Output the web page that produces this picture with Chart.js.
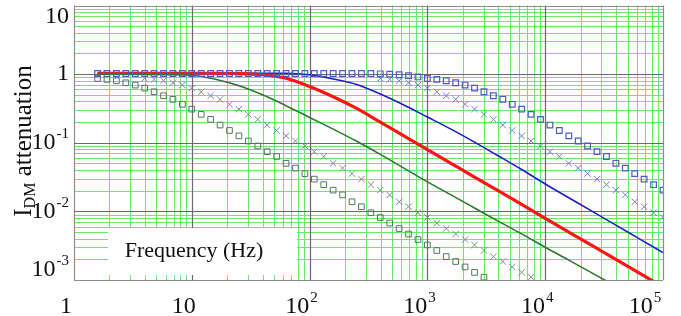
<!DOCTYPE html>
<html>
<head>
<meta charset="utf-8">
<script src="https://cdn.jsdelivr.net/npm/chart.js@4/dist/chart.umd.min.js"></script>
<style>
  html, body { margin: 0; padding: 0; background: #fff; }
  #wrap { width: 681px; height: 316px; }
</style>
</head>
<body>
<div id="wrap"><canvas id="attChart"></canvas></div>
<script>
// frequencies of the marker series (Hz)
const freqs = [
  1.585, 1.905, 2.291, 2.754, 3.311, 3.981, 4.786, 5.754, 6.918, 8.318,
  10, 12.02, 14.45, 17.38, 20.89, 25.12, 30.2, 36.31, 43.65, 52.48,
  63.1, 75.86, 91.2, 109.6, 131.8, 158.5, 190.5, 229.1, 275.4, 331.1,
  398.1, 478.6, 575.4, 691.8, 831.8, 1000, 1202, 1445, 1738, 2089,
  2512, 3020, 3631, 4365, 5248, 6310, 7586, 9120, 10965, 13183,
  15849, 19055, 22909, 27542, 33113, 39811, 47863, 57544, 69183, 83176,
  100000
];

// gray squares
const graySquares = [
  0.865, 0.838, 0.80, 0.748, 0.692, 0.625, 0.553, 0.484, 0.429, 0.363,
  0.309, 0.259, 0.219, 0.181, 0.151, 0.126, 0.106, 0.0897, 0.0741, 0.0631,
  0.0501, 0.0427, 0.0355, 0.0295, 0.0245, 0.0204, 0.0174, 0.0138, 0.0117, 0.00955,
  0.00813, 0.00676, 0.00562, 0.00468, 0.00389, 0.00324, 0.00269, 0.00219, 0.00186, 0.00155,
  0.00129, 0.0011, null, null, null, null, null, null, null, null,
  null, null, null, null, null, null, null, null, null, null,
  null
];

// gray crosses
const grayCrosses = [
  null, null, null, null, null, 0.865, 0.838, 0.80, 0.748, 0.692,
  0.625, 0.553, 0.484, 0.429, 0.363, 0.309, 0.259, 0.219, 0.181, 0.151,
  0.126, 0.106, 0.0897, 0.0741, 0.0631, 0.0501, 0.0427, 0.0355, 0.0295, 0.0245,
  0.0204, 0.0174, 0.0138, 0.0117, 0.00955, 0.00813, 0.00676, 0.00562, 0.00468, 0.00389,
  0.00324, 0.00269, 0.00219, 0.00186, 0.00155, 0.00129, 0.0011, null, null, null,
  null, null, null, null, null, null, null, null, null, null,
  null
];

// blue squares
const blueSquares = [
  1.02, 1.02, 1.02, 1.02, 1.02, 1.02, 1.02, 1.02, 1.02, 1.02,
  1.02, 1.02, 1.02, 1.02, 1.02, 1.02, 1.02, 1.02, 1.02, 1.02,
  1.02, 1.02, 1.02, 1.02, 1.02, 1.02, 1.02, 1.02, 1.02, 1.02,
  1.01, 1.0, 0.98, 0.95, 0.91, 0.865, 0.838, 0.80, 0.748, 0.692,
  0.625, 0.553, 0.484, 0.429, 0.363, 0.309, 0.259, 0.219, 0.181, 0.151,
  0.126, 0.106, 0.0897, 0.0741, 0.0631, 0.0501, 0.0427, 0.0355, 0.0295, 0.0245,
  0.0204
];

// blue crosses
const blueCrosses = [
  null, null, null, null, null, null, null, null, null, null,
  null, null, null, null, null, null, null, null, null, null,
  null, null, null, null, null, null, null, null, null, null,
  0.865, 0.838, 0.80, 0.748, 0.692, 0.625, 0.553, 0.484, 0.429, 0.363,
  0.309, 0.259, 0.219, 0.181, 0.151, 0.126, 0.106, 0.0897, 0.0741, 0.0631,
  0.0501, 0.0427, 0.0355, 0.0295, 0.0245, 0.0204, 0.0174, 0.0138, 0.0117, 0.00955,
  0.00813
];

// frequencies of the solid curves (Hz)
const lineFreqs = [
  1.585, 2.512, 3.981, 6.31, 10, 15.85, 25.12, 39.81, 63.1, 100,
  158.5, 251.2, 398.1, 631, 1000, 1585, 2512, 3981, 6310, 10000,
  15849, 25119, 39811, 63096, 100000
];
const greenLine = [
  1.0, 1.0, 0.99, 0.98, 0.965, 0.84, 0.676, 0.50, 0.347, 0.234,
  0.158, 0.105, 0.0676, 0.0427, 0.0269, 0.0174, 0.0112, 0.0072, 0.0047, 0.0030,
  0.00195, 0.00126, 0.00081, null, null
];
const redLine = [
  1.03, 1.03, 1.03, 1.03, 1.03, 1.03, 1.02, 0.98, 0.87, 0.66,
  0.468, 0.316, 0.20, 0.126, 0.0794, 0.0501, 0.0316, 0.02, 0.0126, 0.0079,
  0.005, 0.00316, 0.002, 0.00126, 0.00079
];
const blueLine = [
  1.03, 1.03, 1.03, 1.03, 1.03, 1.03, 1.03, 1.03, 1.03, 0.977,
  0.851, 0.708, 0.513, 0.355, 0.237, 0.158, 0.102, 0.0646, 0.0407, 0.0251,
  0.0158, 0.01, 0.0063, 0.00398, 0.00251
];

// tick labels as base + exponent
const xTickVals = [1, 10, 100, 1000, 10000, 100000];
const xTickLabels = [['1', ''], ['10', ''], ['10', '2'], ['10', '3'], ['10', '4'], ['10', '5']];
const yTickVals = [10, 1, 0.1, 0.01, 0.001];
const yTickLabels = [['10', ''], ['1', ''], ['10', '-1'], ['10', '-2'], ['10', '-3']];
const xTitle = 'Frequency (Hz)';
const yTitle = ['I', 'DM', ' attenuation'];

const SERIF = '"Liberation Serif", "Times New Roman", serif';
const MINOR_GRID = '#6ee66e';
const MAJOR_GRID = '#6a6a6a';
const EDGE = '#8c8c8c';

function pts(xs, ys) {
  return xs.map((x, i) => ({ x: x, y: ys[i] }));
}

function mantissa(v) {
  const e = Math.floor(Math.log10(v) + 1e-9);
  return v / Math.pow(10, e);
}

function isDecade(v) {
  return Math.abs(mantissa(v) - 1) < 1e-6;
}

// keep only 1..9 x 10^n ticks (drop the extra 1.5 ones)
function keepWholeTicks(scale) {
  scale.ticks = scale.ticks.filter(t => {
    const m = mantissa(t.value);
    return Math.abs(m - Math.round(m)) < 1e-6;
  });
}

// draws "10" with a raised exponent
function drawPower(ctx, base, sup, x, y, align, size) {
  const supSize = Math.round(size * 0.62);
  ctx.font = size + 'px ' + SERIF;
  const wb = ctx.measureText(base).width;
  ctx.font = supSize + 'px ' + SERIF;
  const ws = sup ? ctx.measureText(sup).width + 1 : 0;
  const total = wb + ws;
  const left = align === 'right' ? x - total : x - total / 2;
  ctx.textAlign = 'left';
  ctx.textBaseline = 'middle';
  ctx.font = size + 'px ' + SERIF;
  ctx.fillText(base, left, y);
  if (sup) {
    ctx.font = supSize + 'px ' + SERIF;
    ctx.fillText(sup, left + wb + 1, y - size * 0.36);
  }
}

// grid lines from the scales' own ticks, green minor / gray decades
function drawGrid(chart) {
  const ctx = chart.ctx;
  const a = chart.chartArea;
  const xs = chart.scales.x;
  const ys = chart.scales.y;
  const vline = (p, color) => {
    const px = Math.round(p) + 0.5;
    ctx.strokeStyle = color;
    ctx.beginPath(); ctx.moveTo(px, a.top); ctx.lineTo(px, a.bottom); ctx.stroke();
  };
  const hline = (p, color) => {
    const py = Math.round(p) + 0.5;
    ctx.strokeStyle = color;
    ctx.beginPath(); ctx.moveTo(a.left, py); ctx.lineTo(a.right, py); ctx.stroke();
  };
  ctx.save();
  ctx.lineWidth = 1;
  xs.ticks.forEach(t => { if (!isDecade(t.value)) vline(xs.getPixelForValue(t.value), MINOR_GRID); });
  ys.ticks.forEach(t => { if (!isDecade(t.value)) hline(ys.getPixelForValue(t.value), MINOR_GRID); });
  ctx.lineWidth = 1.2;
  xs.ticks.forEach(t => {
    if (!isDecade(t.value)) return;
    const edge = t.value === xs.min || t.value === xs.max;
    vline(xs.getPixelForValue(t.value), edge ? EDGE : MAJOR_GRID);
  });
  ys.ticks.forEach(t => {
    if (!isDecade(t.value)) return;
    const edge = t.value === ys.min || t.value === ys.max;
    hline(ys.getPixelForValue(t.value), edge ? EDGE : MAJOR_GRID);
  });
  ctx.restore();
}

const labelPlugin = {
  id: 'labelPlugin',
  beforeDatasetsDraw(chart) {
    drawGrid(chart);
    // white box with the frequency caption, sits over the grid
    const ctx = chart.ctx;
    const a = chart.chartArea;
    ctx.save();
    ctx.fillStyle = '#ffffff';
    ctx.fillRect(a.left + 34, a.bottom - 52, 189, 47);
    ctx.fillStyle = '#111';
    ctx.font = '22px ' + SERIF;
    ctx.textAlign = 'center';
    ctx.textBaseline = 'middle';
    ctx.fillText(xTitle, a.left + 120, a.bottom - 29);
    ctx.restore();
  },
  afterDraw(chart) {
    const ctx = chart.ctx;
    const a = chart.chartArea;
    const xs = chart.scales.x;
    const ys = chart.scales.y;
    ctx.save();
    ctx.fillStyle = '#111';
    xTickVals.forEach((v, i) => {
      let px = xs.getPixelForValue(v) - 8;
      px = Math.min(px, chart.width - 36);
      drawPower(ctx, xTickLabels[i][0], xTickLabels[i][1], px, a.bottom + 27, 'center', 24);
    });
    yTickVals.forEach((v, i) => {
      let py = ys.getPixelForValue(v);
      py = Math.max(17, Math.min(py, a.bottom - 10));
      drawPower(ctx, yTickLabels[i][0], yTickLabels[i][1], a.left - 5, py, 'right', 24);
    });

    // rotated axis title with subscript
    ctx.translate(31, 141);
    ctx.rotate(-Math.PI / 2);
    ctx.textBaseline = 'alphabetic';
    ctx.textAlign = 'left';
    const big = '25px ' + SERIF;
    const small = '16px ' + SERIF;
    ctx.font = big;
    const w0 = ctx.measureText(yTitle[0]).width;
    const w2 = ctx.measureText(yTitle[2]).width;
    ctx.font = small;
    const w1 = ctx.measureText(yTitle[1]).width;
    let x0 = -(w0 + w1 + w2) / 2;
    ctx.font = big;
    ctx.fillText(yTitle[0], x0, 0);
    ctx.font = small;
    ctx.fillText(yTitle[1], x0 + w0, 4);
    ctx.font = big;
    ctx.fillText(yTitle[2], x0 + w0 + w1, 0);
    ctx.restore();
  }
};

function createAttenuationChart() {
  const ctx = document.getElementById('attChart').getContext('2d');

  new Chart(ctx, {
    type: 'scatter',
    data: {
      datasets: [
        {
          label: 'gray squares', data: pts(freqs, graySquares),
          pointStyle: 'rect', pointRadius: 4, borderColor: '#4f7a5c',
          backgroundColor: 'rgba(0,0,0,0)', pointBorderWidth: 1, showLine: false, order: 0
        },
        {
          label: 'gray crosses', data: pts(freqs, grayCrosses),
          pointStyle: 'crossRot', pointRadius: 4.5, borderColor: '#7d8c8c',
          pointBorderWidth: 1, showLine: false, order: 0
        },
        {
          label: 'blue squares', data: pts(freqs, blueSquares),
          pointStyle: 'rect', pointRadius: 4, borderColor: '#4c5cbc',
          backgroundColor: 'rgba(0,0,0,0)', pointBorderWidth: 1.2, showLine: false, order: 0
        },
        {
          label: 'blue crosses', data: pts(freqs, blueCrosses),
          pointStyle: 'crossRot', pointRadius: 4.5, borderColor: '#6f7fcc',
          pointBorderWidth: 1, showLine: false, order: 0
        },
        {
          label: 'green', data: pts(lineFreqs, greenLine), showLine: true,
          borderColor: '#2a7a2a', borderWidth: 1.6, pointRadius: 0,
          cubicInterpolationMode: 'monotone', order: 1
        },
        {
          label: 'red', data: pts(lineFreqs, redLine), showLine: true,
          borderColor: '#ff1414', borderWidth: 3.2, pointRadius: 0,
          cubicInterpolationMode: 'monotone', order: 1
        },
        {
          label: 'blue', data: pts(lineFreqs, blueLine), showLine: true,
          borderColor: '#1c1ccc', borderWidth: 1.6, pointRadius: 0,
          cubicInterpolationMode: 'monotone', order: 1
        }
      ]
    },
    options: {
      responsive: true,
      maintainAspectRatio: false,
      animation: false,
      layout: { padding: { left: 74, right: 18, top: 5, bottom: 36 } },
      plugins: {
        legend: { display: false },
        tooltip: { enabled: false }
      },
      scales: {
        x: {
          type: 'logarithmic',
          min: 1,
          max: 100000,
          afterBuildTicks: keepWholeTicks,
          ticks: { display: false },
          grid: { display: false, drawTicks: false },
          border: { display: false }
        },
        y: {
          type: 'logarithmic',
          min: 0.001,
          max: 10,
          afterBuildTicks: keepWholeTicks,
          ticks: { display: false },
          grid: { display: false, drawTicks: false },
          border: { display: false }
        }
      }
    },
    plugins: [labelPlugin]
  });
}

document.addEventListener('DOMContentLoaded', createAttenuationChart);
</script>
</body>
</html>
